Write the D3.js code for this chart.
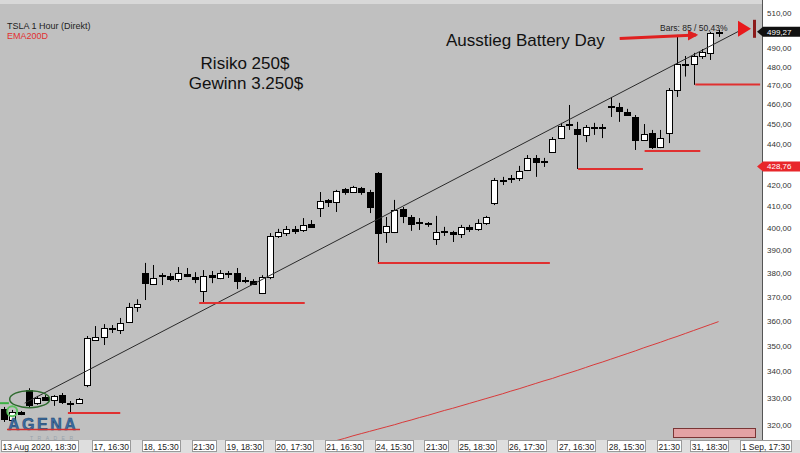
<!DOCTYPE html>
<html>
<head>
<meta charset="utf-8">
<script src="https://cdn.jsdelivr.net/npm/d3@7"></script>
<style>
    body { margin: 0; background: #fff; }
    svg { display: block; font-family: Arial, "Liberation Sans", sans-serif; }
</style>
</head>
<body>
<div class="container"></div>
<script>
const width = 800;
const height = 453;
const plotRight = 762;
const plotBottom = 440;

// hourly bars, index 0 = 13 Aug 2020 18:30 (just left of the visible area)
const firstBar = 1;
const lastSlot = 90;

const open = [
    325.9, 321.8, 324.7, 332.9, 328.1, 330.3, 329.2, 331.0, 328.1, 328.1,
    334.8, 352.3, 353.5, 356.7, 356.3, 359.6, 365.7, 380.0, 375.3, 378.7,
    378.7, 377.4, 379.6, 378.3, 372.4, 379.1, 377.9, 380.0, 380.0, 377.0,
    376.6, 371.5, 378.3, 396.3, 397.6, 399.5, 399.0, 401.7, 409.0, 412.8,
    411.9, 417.9, 416.5, 418.4, 416.5, 425.6, 398.1, 398.1, 408.6, 404.9,
    402.6, 402.1, 395.0, 398.6, 398.1, 397.2, 400.4, 399.5, 402.1, 411.4,
    421.7, 422.7, 423.2, 427.0, 432.9, 430.9, 435.8, 442.7, 449.3, 447.3,
    444.3, 447.8, 448.3, 459.1, 458.6, 456.0, 453.4, 441.7, 445.3, 438.2,
    445.3, 467.5, 481.4, 481.4, 485.8, 487.5, 498.6
];
const high = [
    326.6, 325.5, 325.1, 333.6, 330.7, 331.0, 331.0, 331.8, 328.8, 329.9,
    353.9, 357.9, 358.7, 358.3, 361.2, 367.4, 368.9, 384.4, 383.5, 380.0,
    380.0, 382.6, 382.2, 380.4, 381.3, 380.9, 381.3, 380.9, 382.2, 378.3,
    377.4, 379.1, 397.6, 399.5, 400.8, 400.8, 404.4, 403.5, 416.5, 413.2,
    417.5, 418.4, 419.4, 418.9, 417.5, 426.0, 404.9, 412.8, 409.5, 405.8,
    404.4, 402.6, 405.4, 400.4, 398.6, 401.3, 401.3, 403.9, 405.4, 423.2,
    423.7, 424.6, 429.0, 434.3, 434.3, 432.9, 443.2, 450.4, 459.6, 450.9,
    449.3, 450.4, 449.8, 463.8, 460.7, 457.6, 454.4, 449.8, 446.8, 446.8,
    468.5, 497.5, 485.8, 487.5, 489.6, 499.2, 500.3
];
const low = [
    321.1, 321.4, 323.6, 326.3, 327.4, 328.8, 327.0, 327.7, 324.4, 327.7,
    334.0, 351.9, 350.3, 355.1, 354.7, 359.2, 363.7, 368.6, 374.9, 374.9,
    376.6, 376.2, 378.3, 375.7, 367.4, 375.7, 377.4, 377.9, 373.2, 375.7,
    374.9, 371.1, 377.4, 395.4, 396.3, 397.2, 398.1, 399.9, 404.9, 409.5,
    407.2, 415.2, 416.1, 415.2, 406.7, 384.4, 393.2, 397.6, 402.1, 398.6,
    399.0, 400.4, 392.3, 396.3, 393.6, 395.4, 398.1, 398.6, 401.3, 410.4,
    419.8, 420.8, 421.7, 426.5, 423.7, 428.5, 435.8, 442.2, 446.8, 427.5,
    440.7, 444.3, 442.7, 453.4, 450.9, 453.9, 436.8, 441.7, 437.3, 437.7,
    440.2, 463.8, 474.6, 470.2, 484.2, 483.6, 496.4
];
const close = [
    322.2, 324.7, 324.0, 327.4, 329.9, 329.2, 330.7, 328.5, 327.7, 329.6,
    353.1, 353.5, 357.1, 357.1, 359.2, 365.7, 367.0, 375.7, 377.9, 379.1,
    377.4, 380.0, 378.7, 377.4, 378.7, 378.3, 380.0, 379.6, 376.6, 376.6,
    375.3, 378.3, 396.3, 398.1, 399.5, 398.6, 401.3, 400.4, 412.3, 411.9,
    417.0, 416.5, 418.9, 416.5, 409.5, 397.6, 400.8, 408.1, 405.4, 401.7,
    402.1, 401.9, 398.1, 398.4, 397.2, 400.4, 399.5, 402.1, 404.9, 422.2,
    422.2, 423.2, 426.5, 432.9, 430.9, 431.4, 442.2, 448.8, 449.8, 444.8,
    448.3, 448.1, 447.6, 458.6, 456.5, 454.4, 441.7, 444.8, 438.2, 442.7,
    467.5, 481.4, 481.0, 485.8, 488.0, 498.6, 499.27
];

// EMA200D from bar 40 on (before that it sits below the chart)
const emaFirstBar = 40;
const ema = [
    313.2, 314.4, 315.2, 316.1, 316.9, 317.7, 318.5, 319.3, 320.1, 321.0,
    321.8, 322.7, 323.5, 324.4, 325.3, 326.1, 327.0, 327.9, 328.8, 329.7,
    330.6, 331.5, 332.5, 333.4, 334.4, 335.4, 336.4, 337.3, 338.4, 339.4,
    340.4, 341.5, 342.6, 343.6, 344.7, 345.8, 346.9, 348.0, 349.2, 350.3,
    351.4, 352.6, 353.7, 354.9, 356.1, 357.3, 358.5, 359.7
];

// time axis
const tickBars = [0, 12, 18, 24, 28, 34, 40, 46, 52, 56, 62, 68, 74, 80, 84, 90];
const tickLabels = ['13 Aug 2020, 18:30', '17, 16:30', '18, 15:30', '21:30', '19, 18:30',
    '20, 17:30', '21, 16:30', '24, 15:30', '21:30', '25, 18:30', '26, 17:30',
    '27, 16:30', '28, 15:30', '21:30', '31, 18:30', '1 Sep, 17:30'];

// price axis
const priceTicks = [320, 330, 340, 350, 360, 370, 380, 390, 400, 410,
    420, 430, 440, 450, 460, 470, 480, 490, 500, 510];

// support lines drawn on the chart: [from bar, to bar, price]
const supportFrom = [8.7, 24.5, 46.0, 70.1, 78.1, 84.2];
const supportTo = [15.0, 37.2, 66.7, 77.9, 84.8, 92.0];
const supportPrice = [324.4, 367.4, 384.4, 427.5, 436.3, 470.4];

// trend line (bars / price)
const trendBars = [3.5, 90];
const trendPrices = [328, 501];

const lastPrice = 499.27;
const markPrice = 428.76;

const fmt = v => d3.format('.2f')(v).replace('.', ',');

const x = d3.scaleLinear().domain([0, lastSlot]).range([-4.4, 743.5]);
const y = d3.scaleLog().domain([320, 510]).range([425, 13]);

const svg = d3.select('.container')
    .append('svg')
    .attr('width', width)
    .attr('height', height);

svg.append('rect').attr('width', width).attr('height', height).attr('fill', '#c0c0c0');
svg.append('rect').attr('width', plotRight).attr('height', 4).attr('fill', '#d8d8d8');

svg.append('clipPath').attr('id', 'plot')
    .append('rect').attr('width', plotRight).attr('height', plotBottom);

const g = svg.append('g').attr('clip-path', 'url(#plot)');

// EMA
g.append('path')
    .datum(ema)
    .attr('fill', 'none')
    .attr('stroke', '#d83a3a')
    .attr('stroke-width', 1)
    .attr('d', d3.line().x((d, k) => x(emaFirstBar + k)).y(d => y(d)));

// candles
const bars = close.map((c, k) => ({i: firstBar + k, o: open[k], h: high[k], l: low[k], c: c}));
const cx = d => Math.round(x(d.i)) + 0.5;

g.selectAll('.wick')
    .data(bars)
    .enter().append('line')
    .attr('class', 'wick')
    .attr('x1', cx).attr('x2', cx)
    .attr('y1', d => y(d.h)).attr('y2', d => y(d.l))
    .attr('stroke', '#000');

g.selectAll('.body')
    .data(bars)
    .enter().append('rect')
    .attr('class', 'body')
    .attr('x', d => cx(d) - 3)
    .attr('width', 6)
    .attr('y', d => Math.round(y(Math.max(d.o, d.c))) + 0.5)
    .attr('height', d => Math.max(1, Math.round(y(Math.min(d.o, d.c)) - y(Math.max(d.o, d.c)))))
    .attr('fill', d => d.c >= d.o ? '#fff' : '#000')
    .attr('stroke', '#000');

// trend line
g.append('line')
    .attr('x1', x(trendBars[0])).attr('y1', y(trendPrices[0]))
    .attr('x2', x(trendBars[1])).attr('y2', y(trendPrices[1]))
    .attr('stroke', '#2a2a2a')
    .attr('stroke-width', 1);

// support lines
g.selectAll('.support')
    .data(supportPrice)
    .enter().append('line')
    .attr('class', 'support')
    .attr('x1', (d, k) => x(supportFrom[k]))
    .attr('x2', (d, k) => x(supportTo[k]))
    .attr('y1', d => y(d)).attr('y2', d => y(d))
    .attr('stroke', '#e03030')
    .attr('stroke-width', 2);

// green drawing at the start
g.append('line')
    .attr('x1', 0).attr('x2', x(1.6))
    .attr('y1', y(328)).attr('y2', y(328))
    .attr('stroke', '#3cb043').attr('stroke-width', 2);
g.append('ellipse')
    .attr('cx', x(4.1)).attr('cy', y(329.5))
    .attr('rx', 20).attr('ry', 8.5)
    .attr('fill', 'none')
    .attr('stroke', '#2f6b2f').attr('stroke-width', 1.5);
g.append('circle')
    .attr('cx', x(2)).attr('cy', y(325))
    .attr('r', 5)
    .attr('fill', 'none')
    .attr('stroke', '#5cc25f').attr('stroke-width', 2);

// logo
svg.append('text')
    .attr('x', 8).attr('y', 430)
    .attr('font-size', 16).attr('font-weight', 'bold')
    .attr('letter-spacing', 2.5)
    .attr('fill', '#3a6ea5').attr('stroke', '#1f3f66').attr('stroke-width', 0.5)
    .text('AGENA');
svg.append('line')
    .attr('x1', 7).attr('x2', 80).attr('y1', 429.5).attr('y2', 429.5)
    .attr('stroke', '#d03030').attr('stroke-width', 1.5);
svg.append('text')
    .attr('x', 30).attr('y', 439.5)
    .attr('font-size', 5).attr('letter-spacing', 4.5)
    .attr('fill', '#98a2ac')
    .text('TRADER');

// pink box bottom right
svg.append('rect')
    .attr('x', 673.5).attr('y', 428.5).attr('width', 82).attr('height', 9)
    .attr('fill', '#e3a2a4').attr('stroke', '#7a3535');

// texts
svg.append('text').attr('x', 7).attr('y', 28.5).attr('font-size', 9).attr('fill', '#222')
    .text('TSLA 1 Hour (Direkt)');
svg.append('text').attr('x', 7).attr('y', 38.5).attr('font-size', 9).attr('fill', '#e03030')
    .text('EMA200D');

svg.append('text').attr('x', 245).attr('y', 69).attr('font-size', 17).attr('text-anchor', 'middle')
    .attr('fill', '#111').text('Risiko 250$');
svg.append('text').attr('x', 246).attr('y', 89).attr('font-size', 17).attr('text-anchor', 'middle')
    .attr('fill', '#111').text('Gewinn 3.250$');

svg.append('text').attr('x', 446).attr('y', 46).attr('font-size', 17).attr('fill', '#111')
    .text('Ausstieg Battery Day');

svg.append('text').attr('x', 660).attr('y', 31).attr('font-size', 8.5).attr('fill', '#222')
    .text('Bars: 85 / 50,43%');

// arrow
svg.append('defs').append('marker')
    .attr('id', 'head')
    .attr('viewBox', '0 0 10 10')
    .attr('refX', 8).attr('refY', 5)
    .attr('markerWidth', 3.5).attr('markerHeight', 3.5)
    .attr('orient', 'auto')
    .append('path').attr('d', 'M0,0 L10,5 L0,10 Z').attr('fill', '#e02020');
svg.append('line')
    .attr('x1', x(75.1)).attr('y1', y(495.5))
    .attr('x2', x(84.3)).attr('y2', y(497.5))
    .attr('stroke', '#e02020').attr('stroke-width', 3)
    .attr('marker-end', 'url(#head)');

// end-of-data marker
const my = y(lastPrice) - 3;
svg.append('path')
    .attr('d', `M738,${my - 8} L751,${my} L738,${my + 8} Z`)
    .attr('fill', '#e8191c');
svg.append('rect')
    .attr('x', 753).attr('y', my - 9).attr('width', 3).attr('height', 18)
    .attr('fill', '#8c1a1a');

// right price axis
svg.append('rect').attr('x', plotRight).attr('width', width - plotRight).attr('height', plotBottom)
    .attr('fill', '#fff');
svg.append('line').attr('x1', plotRight + 0.5).attr('x2', plotRight + 0.5)
    .attr('y1', 0).attr('y2', plotBottom).attr('stroke', '#555');

// the price tags hide the ticks right under them
const tagPrices = [lastPrice, markPrice];
const shownTicks = priceTicks.filter(t => tagPrices.every(p => Math.abs(y(t) - y(p)) > 8));

const yAxis = svg.append('g')
    .attr('transform', `translate(${plotRight},0)`)
    .call(d3.axisRight(y).tickValues(shownTicks).tickFormat(fmt).tickSize(0).tickPadding(5));
yAxis.select('.domain').remove();
yAxis.selectAll('text')
    .attr('font-size', 8)
    .attr('font-family', 'Arial, "Liberation Sans", sans-serif')
    .attr('fill', '#333');

function priceTag(value, fill) {
    const ty = y(value);
    svg.append('path')
        .attr('d', `M757,${ty} L763,${ty - 5} L800,${ty - 5} L800,${ty + 5} L763,${ty + 5} Z`)
        .attr('fill', fill);
    svg.append('text')
        .attr('x', 767).attr('y', ty + 3)
        .attr('font-size', 8).attr('fill', '#fff')
        .text(fmt(value));
}
priceTag(lastPrice, '#111');
priceTag(markPrice, '#e8262a');

// bottom time axis
svg.append('rect').attr('y', plotBottom).attr('width', width).attr('height', height - plotBottom)
    .attr('fill', '#dedede');

const tk = svg.selectAll('.tbox')
    .data(tickBars)
    .enter().append('g')
    .attr('class', 'tbox');

tk.append('text')
    .attr('x', d => Math.max(1, x(d) - 3.3) + 1.5)
    .attr('y', 449.5)
    .attr('font-size', 8.5)
    .attr('fill', '#222')
    .text((d, k) => tickLabels[k]);

tk.insert('rect', 'text')
    .attr('x', d => Math.round(Math.max(1, x(d) - 3.3)) + 0.5)
    .attr('y', 440.5)
    .attr('height', 11)
    .attr('width', function () {
        return Math.round(this.parentNode.querySelector('text').getComputedTextLength() + 3);
    })
    .attr('fill', '#fff')
    .attr('stroke', '#9a9a9a');
</script>
</body>
</html>
